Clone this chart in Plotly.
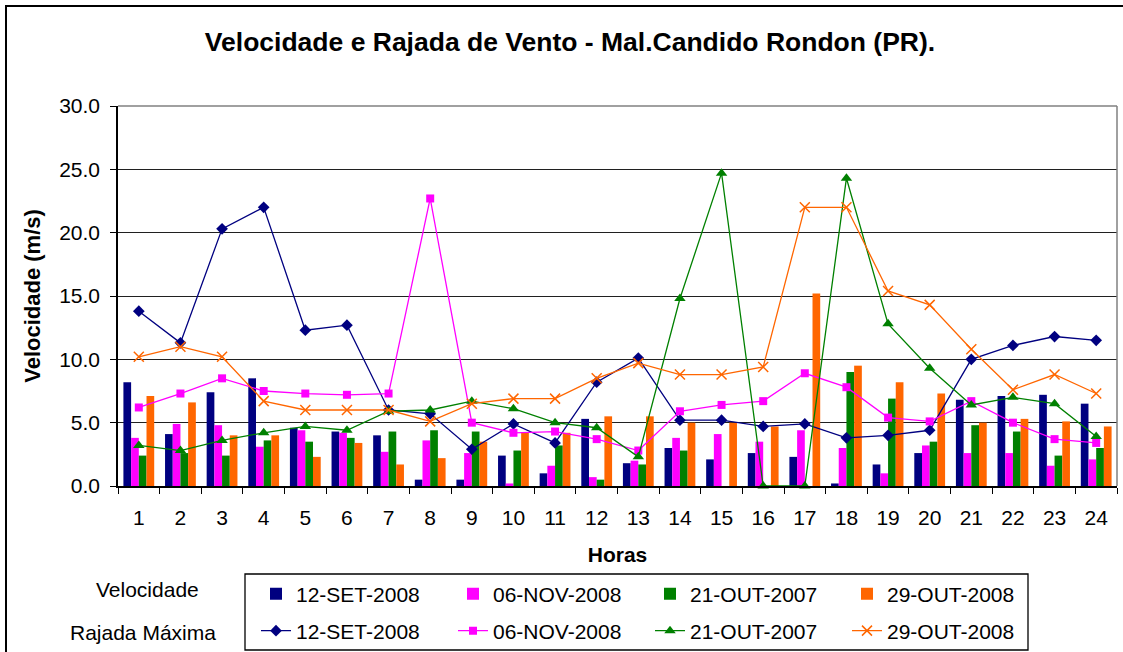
import plotly.graph_objects as go

horas = [str(h) for h in range(1, 25)]
series_names = ["12-SET-2008", "06-NOV-2008", "21-OUT-2007", "29-OUT-2008"]
colors = ["#000080", "#FF00FF", "#008000", "#FF6600"]

# Velocidade (bars)
vel_set08 = [8.2, 4.1, 7.4, 8.5, 4.6, 4.3, 4.0, 0.5, 0.5, 2.4, 1.0, 5.3,
             1.8, 3.0, 2.1, 2.6, 2.3, 0.2, 1.7, 2.6, 6.8, 7.1, 7.2, 6.5]
vel_nov08 = [3.8, 4.9, 4.8, 3.1, 4.4, 4.2, 2.7, 3.6, 2.6, 0.2, 1.6, 0.7,
             2.0, 3.8, 4.1, 3.5, 4.4, 3.0, 1.0, 3.2, 2.6, 2.6, 1.6, 2.1]
vel_out07 = [2.4, 2.6, 2.4, 3.6, 3.5, 3.8, 4.3, 4.4, 4.3, 2.8, 3.2, 0.5,
             1.7, 2.8, 0.0, 0.0, 0.0, 9.0, 6.9, 3.5, 4.8, 4.3, 2.4, 3.0]
vel_out08 = [7.1, 6.6, 4.0, 4.0, 2.3, 3.4, 1.7, 2.2, 3.5, 4.2, 4.2, 5.5,
             5.5, 5.0, 5.0, 4.7, 15.2, 9.5, 8.2, 7.3, 5.0, 5.3, 5.1, 4.7]

# Rajada Maxima (lines)
raj_set08 = [13.8, 11.3, 20.3, 22.0, 12.3, 12.7, 6.0, 5.7, 2.9, 4.9, 3.4, 8.2,
             10.1, 5.2, 5.2, 4.7, 4.9, 3.8, 4.0, 4.4, 10.0, 11.1, 11.8, 11.5]
raj_nov08 = [6.2, 7.3, 8.5, 7.5, 7.3, 7.2, 7.3, 22.7, 5.0, 4.2, 4.3, 3.7,
             2.8, 5.9, 6.4, 6.7, 8.9, 7.8, 5.4, 5.1, 6.7, 5.0, 3.7, 3.4]
raj_out07 = [3.2, 2.8, 3.6, 4.2, 4.7, 4.4, 5.9, 6.0, 6.7, 6.1, 5.0, 4.6,
             2.3, 14.8, 24.7, 0.0, 0.0, 24.3, 12.8, 9.3, 6.4, 7.0, 6.5, 3.9]
raj_out08 = [10.2, 11.0, 10.2, 6.7, 6.0, 6.0, 6.0, 5.1, 6.5, 6.9, 6.9, 8.5,
             9.7, 8.8, 8.8, 9.4, 22.0, 22.0, 15.4, 14.3, 10.8, 7.6, 8.8, 7.3]

vel = [vel_set08, vel_nov08, vel_out07, vel_out08]
raj = [raj_set08, raj_nov08, raj_out07, raj_out08]
symbols = ["diamond", "square", "triangle-up", "x-thin-open"]
msizes = [9, 8, 10, 10]

FONT = "Liberation Sans, Arial, sans-serif"
W, H = 1123, 652
ML, MR, MT, MB = 118, 6, 106, 166
PW, PH = W - ML - MR, H - MT - MB


def px(x):
    return (x - ML) / PW


def py(y):
    return (H - MB - y) / PH


fig = go.Figure()
for name, c, v in zip(series_names, colors, vel):
    fig.add_trace(go.Bar(x=horas, y=v, name=name, marker=dict(color=c, line=dict(width=0)),
                         legend="legend"))
for name, c, r, s, ms in zip(series_names, colors, raj, symbols, msizes):
    fig.add_trace(go.Scatter(x=horas, y=r, name=name, mode="lines+markers",
                             line=dict(color=c, width=1.3),
                             marker=dict(symbol=s, size=ms, color=c,
                                         line=dict(color=c, width=1.5 if s == "x-thin-open" else 0)),
                             cliponaxis=False, legend="legend2"))

shapes = [
    # outer chart frame
    dict(type="rect", xref="paper", yref="paper", x0=px(6), x1=px(1135), y0=py(665), y1=py(6),
         line=dict(color="black", width=2), fillcolor="rgba(0,0,0,0)", layer="below"),
    # plot area border (top & right grey)
    dict(type="line", xref="paper", yref="paper", x0=1, x1=1, y0=0, y1=1,
         line=dict(color="#808080", width=1.5)),
    dict(type="line", xref="paper", yref="paper", x0=0, x1=1, y0=1, y1=1,
         line=dict(color="#808080", width=1.5)),
    # legend box
    dict(type="rect", xref="paper", yref="paper", x0=px(245), x1=px(1028), y0=py(650), y1=py(574),
         line=dict(color="black", width=1.3), fillcolor="rgba(0,0,0,0)"),
]

annotations = [
    dict(text="Velocidade", xref="paper", yref="paper", x=px(147), y=py(589),
         xanchor="center", yanchor="middle", showarrow=False,
         font=dict(family=FONT, size=21, color="black")),
    dict(text="Rajada Máxima", xref="paper", yref="paper", x=px(143), y=py(632),
         xanchor="center", yanchor="middle", showarrow=False,
         font=dict(family=FONT, size=21, color="black")),
]

legend_common = dict(orientation="h", xanchor="left", yanchor="middle",
                     font=dict(family=FONT, size=21, color="black"),
                     entrywidth=152, entrywidthmode="pixels",
                     bgcolor="rgba(0,0,0,0)", borderwidth=0, traceorder="normal",
                     itemclick=False, itemdoubleclick=False)

fig.update_layout(
    width=W, height=H,
    margin=dict(l=ML, r=MR, t=MT, b=MB, autoexpand=False),
    paper_bgcolor="white", plot_bgcolor="white",
    font=dict(family=FONT, color="black"),
    title=dict(text="Velocidade e Rajada de Vento - Mal.Candido Rondon (PR).",
               x=570 / W, xanchor="center", y=1 - 42 / H, yanchor="middle",
               font=dict(family=FONT, size=26.5, color="black", weight="bold")),
    barmode="group", bargap=0.26, bargroupgap=0,
    xaxis=dict(type="category", categoryorder="array", categoryarray=horas,
               range=[-0.5, len(horas) - 0.5], autorange=False,
               showgrid=False, showline=True, linecolor="black", linewidth=1.5,
               ticks="outside", tickson="boundaries", ticklen=6, tickcolor="black",
               tickfont=dict(family=FONT, size=21, color="black"),
               ticklabelstandoff=12,
               title=dict(text="Horas", standoff=19,
                          font=dict(family=FONT, size=21, color="black", weight="bold")),
               zeroline=False),
    yaxis=dict(range=[0, 30], autorange=False, dtick=5, tick0=0, tickformat=".1f",
               showgrid=True, gridcolor="#202020", gridwidth=1,
               showline=True, linecolor="black", linewidth=1.5,
               ticks="outside", ticklen=6, tickcolor="black",
               tickfont=dict(family=FONT, size=21, color="black"),
               ticklabelstandoff=6,
               title=dict(text="Velocidade (m/s)", standoff=12,
                          font=dict(family=FONT, size=22, color="black", weight="bold")),
               zeroline=False),
    legend=dict(x=px(256), y=py(594), **legend_common),
    legend2=dict(x=px(256), y=py(631), **legend_common),
    shapes=shapes,
    annotations=annotations,
    showlegend=True,
)

fig.write_html("out.html", config={"displayModeBar": False},
               post_script="document.body.style.margin='0px';document.body.style.overflow='hidden';")
